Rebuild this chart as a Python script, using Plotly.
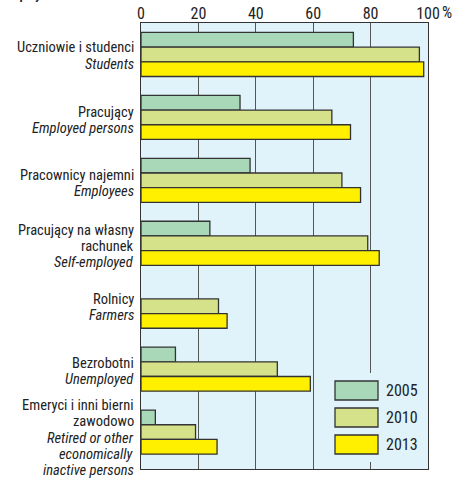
import plotly.graph_objects as go

labels_pl = [
    ["Uczniowie i studenci"],
    ["Pracujący"],
    ["Pracownicy najemni"],
    ["Pracujący na własny", "rachunek"],
    ["Rolnicy"],
    ["Bezrobotni"],
    ["Emeryci i inni bierni", "zawodowo"],
]
labels_en = [
    ["Students"],
    ["Employed persons"],
    ["Employees"],
    ["Self-employed"],
    ["Farmers"],
    ["Unemployed"],
    ["Retired or other", "economically", "inactive persons"],
]
categories = [" / ".join(p + e) for p, e in zip(labels_pl, labels_en)]
years = ["2005", "2010", "2013"]
v2005 = [74, 34.5, 38, 24, None, 12, 5]
v2010 = [97, 66.5, 70, 79, 27, 47.5, 19]
v2013 = [98.5, 73, 76.5, 83, 30, 59, 26.5]
tick_vals = [0, 20, 40, 60, 80, 100]
tick_text = ["0", "20", "40", "60", "80", "100"]
unit = "%"
colors = ["#a8d8b8", "#d5e28a", "#fff000"]

FONT = "Liberation Sans Narrow, Arial Narrow, Roboto Condensed, Liberation Sans, sans-serif"
TXT = "#222222"

fig = go.Figure()
for name, vals, col in zip(years, [v2005, v2010, v2013], colors):
    fig.add_trace(go.Bar(
        y=categories, x=vals, orientation="h", name=name,
        marker=dict(color=col, line=dict(color="#333333", width=1.3)),
        showlegend=False,
    ))

W, H = 453, 481
L, R, T, B = 141, 25, 23, 12
pw, ph = W - L - R, H - T - B

def px(xp):
    return (xp - L) / pw

def py(yp):
    return (H - B - yp) / ph

shapes = [dict(type="rect", xref="paper", yref="paper",
               x0=px(321), x1=px(427), y0=py(462), y1=py(373),
               fillcolor="#e0f2fa", line=dict(width=0), layer="above")]
annotations = []

# category labels (Polish regular, English italic), right aligned left of the axis
LINE = 16.2
label_offset = [1.5, 3, 3, 3, 1, 2, 6]
for cat, pl, en, off in zip(categories, labels_pl, labels_en, label_offset):
    lines = [(t, False) for t in pl] + [(t, True) for t in en]
    n = len(lines)
    for j, (t, it) in enumerate(lines):
        annotations.append(dict(
            xref="paper", yref="y", x=0, y=cat, xanchor="right", yanchor="middle",
            xshift=-5, yshift=-((j - (n - 1) / 2) * LINE + off),
            text=f"<i>{t}</i>" if it else t, showarrow=False,
            font=dict(family=FONT, size=14.5, color=TXT)))

# legend
box_tops = [381, 408, 435]
for yr, col, top in zip(years, colors, box_tops):
    shapes.append(dict(type="rect", xref="paper", yref="paper",
                       x0=px(335), x1=px(378), y0=py(top + 19), y1=py(top),
                       fillcolor=col, line=dict(color="#333333", width=1.3), layer="above"))
    annotations.append(dict(xref="paper", yref="paper", x=px(384), y=py(top + 9.5),
                            text=yr, showarrow=False, xanchor="left", yanchor="middle",
                            font=dict(family=FONT, size=16, color=TXT)))

# unit after the last tick
annotations.append(dict(xref="x", yref="paper", x=100, y=py(13), xshift=12,
                        text=unit, showarrow=False, xanchor="left", yanchor="middle",
                        font=dict(family=FONT, size=16, color=TXT)))

# partially visible heading at the very top
annotations.append(dict(xref="paper", yref="paper", x=px(3), y=py(4),
                        text="<b><i>employment situation</i></b>", showarrow=False,
                        xanchor="left", yanchor="bottom",
                        font=dict(family=FONT, size=13, color=TXT)))

fig.update_layout(
    width=W, height=H,
    margin=dict(l=L, r=R, t=T, b=B, pad=0),
    barmode="group", bargap=0.3, bargroupgap=0,
    plot_bgcolor="#e0f2fa", paper_bgcolor="white",
    font=dict(family=FONT, size=14, color=TXT),
    shapes=shapes, annotations=annotations,
    xaxis=dict(range=[0, 100], side="top", tickvals=tick_vals, ticktext=tick_text,
               showgrid=True, gridcolor="#555555", gridwidth=1.3,
               showline=True, linecolor="#333333", linewidth=1.3, mirror=True,
               ticks="", ticklen=0, zeroline=False, fixedrange=True, automargin=False,
               ticklabelstandoff=-4,
               tickfont=dict(family=FONT, size=16, color=TXT)),
    yaxis=dict(autorange="reversed", showgrid=False, showline=True,
               linecolor="#333333", linewidth=1.3, mirror=True, ticks="",
               showticklabels=False, automargin=False, fixedrange=True),
)

fig.write_html("out.html", config={"displayModeBar": False},
               post_script="document.body.style.margin='0';document.body.style.overflow='hidden';")
